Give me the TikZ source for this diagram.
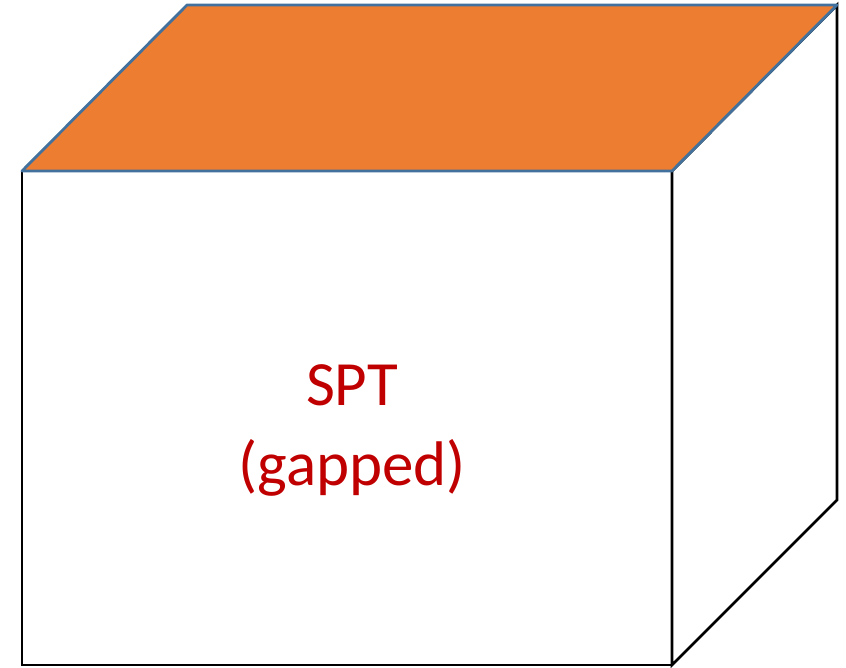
\documentclass[tikz,border=0pt]{standalone}
\usepackage{fontspec}
\setmainfont{Carlito}
\definecolor{toporange}{HTML}{ED7D31}
\definecolor{topblue}{HTML}{41719C}
\definecolor{txtred}{HTML}{C00000}
\tikzset{
  face/.style={draw=black, fill=white, line width=2.8pt, line join=miter},
  topface/.style={draw=topblue, fill=toporange, line width=2.8pt, line join=round},
  label/.style={text=txtred, font=\fontsize{63}{80}\selectfont, align=center}
}
\begin{document}
\begin{tikzpicture}[x=1pt,y=-1pt]
\useasboundingbox (0,0) rectangle (846,668);
\coordinate (fl) at (22,171);
\coordinate (fr) at (672,171);
\coordinate (bl) at (187,5);
\coordinate (br) at (837,5);
\coordinate (flb) at (22,665);
\coordinate (frb) at (672,665);
\coordinate (brb) at (837,500);
\draw[face] (fl) -- (fr) -- (frb) -- (flb) -- cycle;
\draw[face] (fr) -- (br) -- (brb) -- (frb) -- cycle;
\draw[topface] (fl) -- (bl) -- (br) -- (fr) -- cycle;
\node[label] (txt) at (352,430) {SPT\\(gapped)};
\end{tikzpicture}
\end{document}
